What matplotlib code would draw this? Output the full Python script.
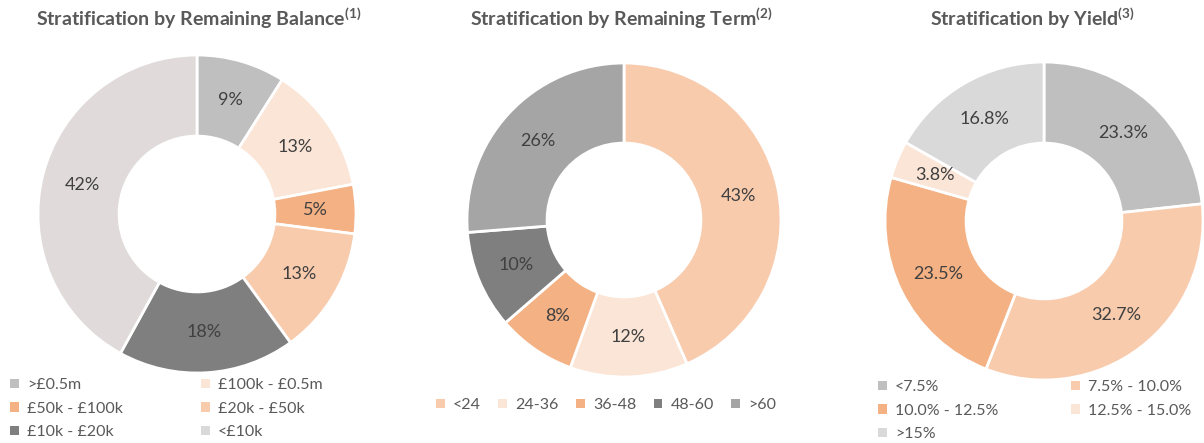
import matplotlib
matplotlib.use("Agg")
import matplotlib.pyplot as plt
from matplotlib.patches import Patch

plt.rcParams['font.family'] = ['Lato', 'DejaVu Sans']
plt.rcParams['mathtext.fontset'] = 'custom'
plt.rcParams['mathtext.rm'] = 'Lato:bold'
plt.rcParams['mathtext.it'] = 'Lato:bold'

# data
bal_labels = [">£0.5m", "£100k - £0.5m", "£50k - £100k", "£20k - £50k", "£10k - £20k", "<£10k"]
bal_values = [9, 13, 5, 13, 18, 42]
bal_colors = ["#bfbfbf", "#fbe5d6", "#f4b183", "#f8cbad", "#7f7f7f", "#e0dada"]
bal_legend_colors = ["#bfbfbf", "#fbe5d6", "#f4b183", "#f8cbad", "#7f7f7f", "#d9d9d9"]

term_labels = ["<24", "24-36", "36-48", "48-60", ">60"]
term_values = [43, 12, 8, 10, 26]
term_colors = ["#f8cbad", "#fbe5d6", "#f4b183", "#7f7f7f", "#a5a5a5"]

yield_labels = ["<7.5%", "7.5% - 10.0%", "10.0% - 12.5%", "12.5% - 15.0%", ">15%"]
yield_values = [23.3, 32.7, 23.5, 3.8, 16.8]
yield_colors = ["#bfbfbf", "#f8cbad", "#f4b183", "#fbe5d6", "#d9d9d9"]

W, H = 1204, 443
fig = plt.figure(figsize=(W / 100, H / 100), dpi=100)

TXT = "#404040"
LEG = "#595959"
LEG_FS = 11.5


def px_axes(cx, cy, r):
    # axes box in pixels (top-left origin) -> figure fraction
    return fig.add_axes([(cx - r) / W, 1 - (cy + r) / H, 2 * r / W, 2 * r / H])


def donut(ax, values, colors, fmt):
    hole = 0.49
    ax.pie(values, colors=colors, startangle=90, counterclock=False,
           autopct=lambda p: fmt(p), pctdistance=(1 + hole) / 2,
           wedgeprops=dict(width=1 - hole, edgecolor="white", linewidth=2),
           textprops=dict(color=TXT, fontsize=13))
    ax.set_aspect("equal")
    ax.set_xlim(-1, 1)
    ax.set_ylim(-1, 1)
    ax.axis("off")


def col_legend(labels, colors, x, y):
    handles = [Patch(facecolor=c, edgecolor="none") for c in colors]
    leg = fig.legend(handles, labels, loc="upper left",
                     bbox_to_anchor=(x / W, 1 - y / H), frameon=False,
                     fontsize=LEG_FS, handlelength=0.55, handleheight=0.55,
                     handletextpad=0.5, labelspacing=0.6, borderaxespad=0,
                     borderpad=0, labelcolor=LEG)
    return leg


# chart 1
ax1 = px_axes(197, 214, 159)
donut(ax1, bal_values, bal_colors, lambda p: "%d%%" % round(p))
fig.text(199 / W, 1 - 18 / H, r"Stratification by Remaining Balance$^{(1)}$",
         ha="center", va="center", fontsize=14, fontweight="bold", color=LEG)
col_legend(bal_labels[0::2], bal_legend_colors[0::2], 10, 378)
col_legend(bal_labels[1::2], bal_legend_colors[1::2], 201, 378)

# chart 2
ax2 = px_axes(624, 220, 157)
donut(ax2, term_values, term_colors, lambda p: "%d%%" % round(p))
fig.text(621 / W, 1 - 18 / H, r"Stratification by Remaining Term$^{(2)}$",
         ha="center", va="center", fontsize=14, fontweight="bold", color=LEG)
handles = [Patch(facecolor=c, edgecolor="none") for c in term_colors]
fig.legend(handles, term_labels, loc="upper left", ncol=5,
           bbox_to_anchor=(436 / W, 1 - 398 / H), frameon=False,
           fontsize=LEG_FS, handlelength=0.55, handleheight=0.55,
           handletextpad=0.5, columnspacing=1.1, borderaxespad=0,
           borderpad=0, labelcolor=LEG)

# chart 3
ax3 = px_axes(1044, 221, 159)
donut(ax3, yield_values, yield_colors, lambda p: "%.1f%%" % p)
fig.text(1032 / W, 1 - 18 / H, r"Stratification by Yield$^{(3)}$",
         ha="center", va="center", fontsize=14, fontweight="bold", color=LEG)
col_legend(yield_labels[0::2], yield_colors[0::2], 878, 380)
col_legend(yield_labels[1::2], yield_colors[1::2], 1071, 380)

fig.savefig("out.png", dpi=100)
